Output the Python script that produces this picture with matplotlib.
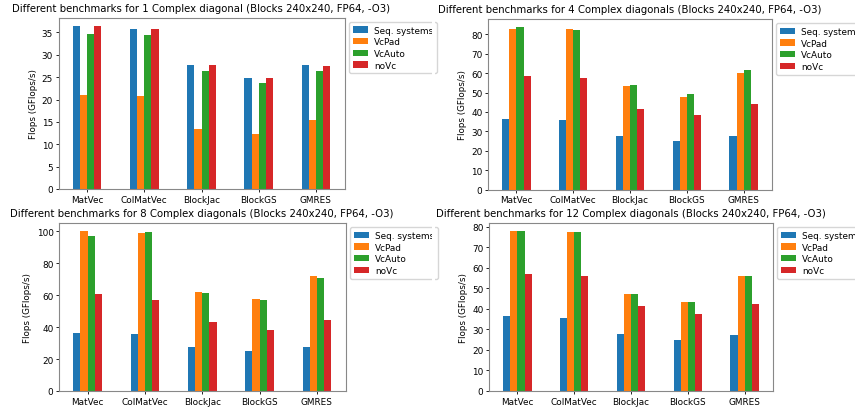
import numpy as np
import matplotlib.pyplot as plt
from matplotlib.patches import Rectangle

benchmarks = ['MatVec', 'ColMatVec', 'BlockJac', 'BlockGS', 'GMRES']
series_names = ['Seq. systems', 'VcPad', 'VcAuto', 'noVc']
colors = ['#1f77b4', '#ff7f0e', '#2ca02c', '#d62728']

# GFlops/s per benchmark, one dict per number of complex diagonals
diag1 = {
    'Seq. systems': [36.5, 35.8, 27.7, 24.9, 27.6],
    'VcPad': [20.9, 20.7, 13.4, 12.3, 15.4],
    'VcAuto': [34.7, 34.5, 26.4, 23.7, 26.3],
    'noVc': [36.5, 35.8, 27.8, 24.9, 27.5],
}
diag4 = {
    'Seq. systems': [36.5, 35.8, 27.7, 24.8, 27.6],
    'VcPad': [82.7, 82.7, 53.3, 47.5, 60.2],
    'VcAuto': [83.8, 82.2, 54.0, 49.4, 61.7],
    'noVc': [58.8, 57.6, 41.6, 38.2, 43.9],
}
diag8 = {
    'Seq. systems': [36.5, 35.8, 27.7, 25.0, 27.6],
    'VcPad': [100.3, 99.3, 62.1, 57.5, 71.9],
    'VcAuto': [97.2, 99.5, 61.3, 57.2, 70.8],
    'noVc': [60.8, 57.1, 43.3, 38.4, 44.8],
}
diag12 = {
    'Seq. systems': [36.4, 35.8, 27.6, 24.8, 27.5],
    'VcPad': [77.8, 77.4, 47.3, 43.6, 56.1],
    'VcAuto': [78.0, 77.4, 47.3, 43.6, 56.2],
    'noVc': [57.0, 55.9, 41.2, 37.3, 42.6],
}

TITLE = 'Different benchmarks for {} (Blocks 240x240, FP64, -O3)'

W, H = 855, 410
fig = plt.figure(figsize=(W / 100, H / 100), dpi=100)


def px_axes(x0, y0, x1, y1):
    # axes box given in pixel coords (top-left origin)
    return fig.add_axes([x0 / W, 1 - y1 / H, (x1 - x0) / W, (y1 - y0) / H])


def draw_panel(ax, data, label):
    x = np.arange(len(benchmarks))
    width = 0.125
    for i, name in enumerate(series_names):
        ax.bar(x - 0.25 + width * (i + 0.5), data[name], width,
               color=colors[i], label=name)
    ax.set_xlim(-0.5, len(benchmarks) - 0.5)
    ax.set_xticks(x)
    ax.set_xticklabels(benchmarks)
    ax.tick_params(labelsize=6.4, length=2.5, width=0.6, pad=1.5)
    for s in ax.spines.values():
        s.set_color('#888888')
        s.set_linewidth(0.8)
    ax.set_ylabel('Flops (GFlops/s)', fontsize=6.3, labelpad=3)
    ax.set_title(TITLE.format(label), fontsize=7.3, pad=5)
    ax.legend(loc='upper left', bbox_to_anchor=(1.0, 1.0), fontsize=6.4,
              handlelength=1.7, borderpad=0.4, labelspacing=0.3,
              handletextpad=0.7)


ax1 = px_axes(58.5, 18.5, 344.5, 190)
ax2 = px_axes(488, 20, 772, 190.5)
ax3 = px_axes(59, 224, 345.5, 392)
ax4 = px_axes(489, 224, 773, 392)

draw_panel(ax1, diag1, '1 Complex diagonal')
draw_panel(ax2, diag4, '4 Complex diagonals')
draw_panel(ax3, diag8, '8 Complex diagonals')
draw_panel(ax4, diag12, '12 Complex diagonals')

# white strip between the two columns so the left legends end cleanly
fig.patches.append(Rectangle((432 / W, 0), 2.5 / W, 1, transform=fig.transFigure,
                             facecolor='white', edgecolor='none', zorder=10))

fig.savefig('out.png', dpi=100)
